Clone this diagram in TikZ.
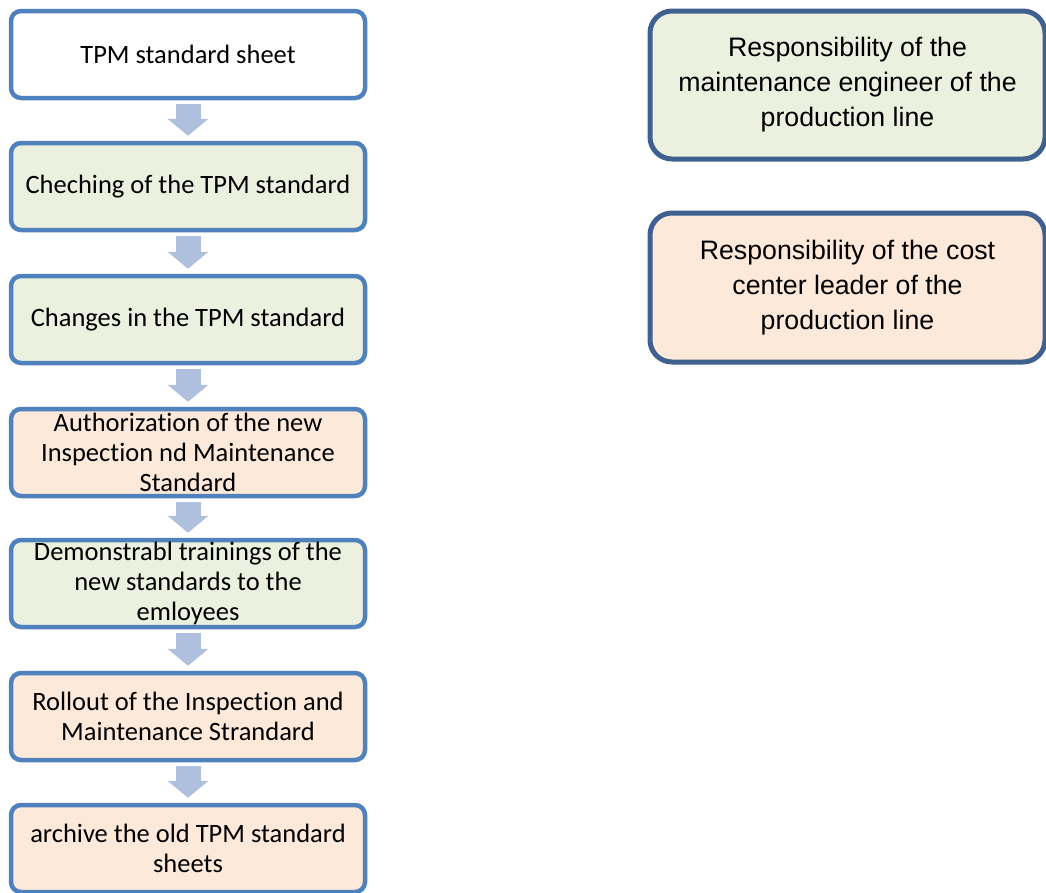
\documentclass[tikz,border=0pt]{standalone}
\usepackage{fontspec}
\setmainfont[Ligatures=NoCommon]{Carlito}
\newfontfamily\arialf{Liberation Sans}
\usetikzlibrary{arrows.meta,calc}
\definecolor{stepedge}{HTML}{4F81BD}
\definecolor{keyedge}{HTML}{3F6190}
\definecolor{greenfill}{HTML}{EBF1DE}
\definecolor{orangefill}{HTML}{FDE9D9}
\definecolor{flowarrow}{HTML}{AEC0DE}
\tikzset{
  stepbox/.style={draw=stepedge, line width=4.5pt, rounded corners=10pt,
    minimum width=354pt, minimum height=87pt, inner sep=0pt, align=center,
    font=\fontsize{26.5}{30}\selectfont},
  keybox/.style={draw=keyedge, line width=5pt, rounded corners=22pt,
    minimum width=395pt, inner sep=0pt, align=center,
    font=\arialf\fontsize{26.7}{35}\selectfont},
  flow/.style={draw=flowarrow, line width=25pt,
    -{Triangle[width=40pt,length=17pt]}}
}
\begin{document}
\begin{tikzpicture}[x=1pt,y=-1pt]
\useasboundingbox (0,0) rectangle (1046,892);
% process steps
\node[stepbox, fill=white]      (s1) at (188,54.5)  {TPM standard sheet};
\node[stepbox, fill=greenfill]  (s2) at (188,186.5) {Cheching of the TPM standard};
\node[stepbox, fill=greenfill]  (s3) at (188,319.5) {Changes in the TPM standard};
\node[stepbox, fill=orangefill] (s4) at (188,452.5) {Authorization of the new\\Inspection nd Maintenance\\Standard};
\node[stepbox, fill=greenfill]  (s5) at (188,583.5) {Demonstrabl trainings of the\\new standards to the\\emloyees};
\node[stepbox, fill=orangefill] (s6) at (188,716.5) {Rollout of the Inspection and\\Maintenance Strandard};
\node[stepbox, fill=orangefill] (s7) at (188,848.5) {archive the old TPM standard\\sheets};
% arrows between steps
\foreach \a/\b in {s1/s2,s2/s3,s3/s4,s4/s5,s5/s6,s6/s7}
  \draw[flow] ($(\a.south)+(0,4)$) -- ($(\b.north)+(0,-5)$);
% legend
\node[keybox, fill=greenfill, minimum height=148pt]  (k1) at (847.5,85)
  {Responsibility of the\\maintenance engineer of the\\production line};
\node[keybox, fill=orangefill, minimum height=149pt] (k2) at (847.5,287.5)
  {Responsibility of the cost\\center leader of the\\production line};
\end{tikzpicture}
\end{document}
